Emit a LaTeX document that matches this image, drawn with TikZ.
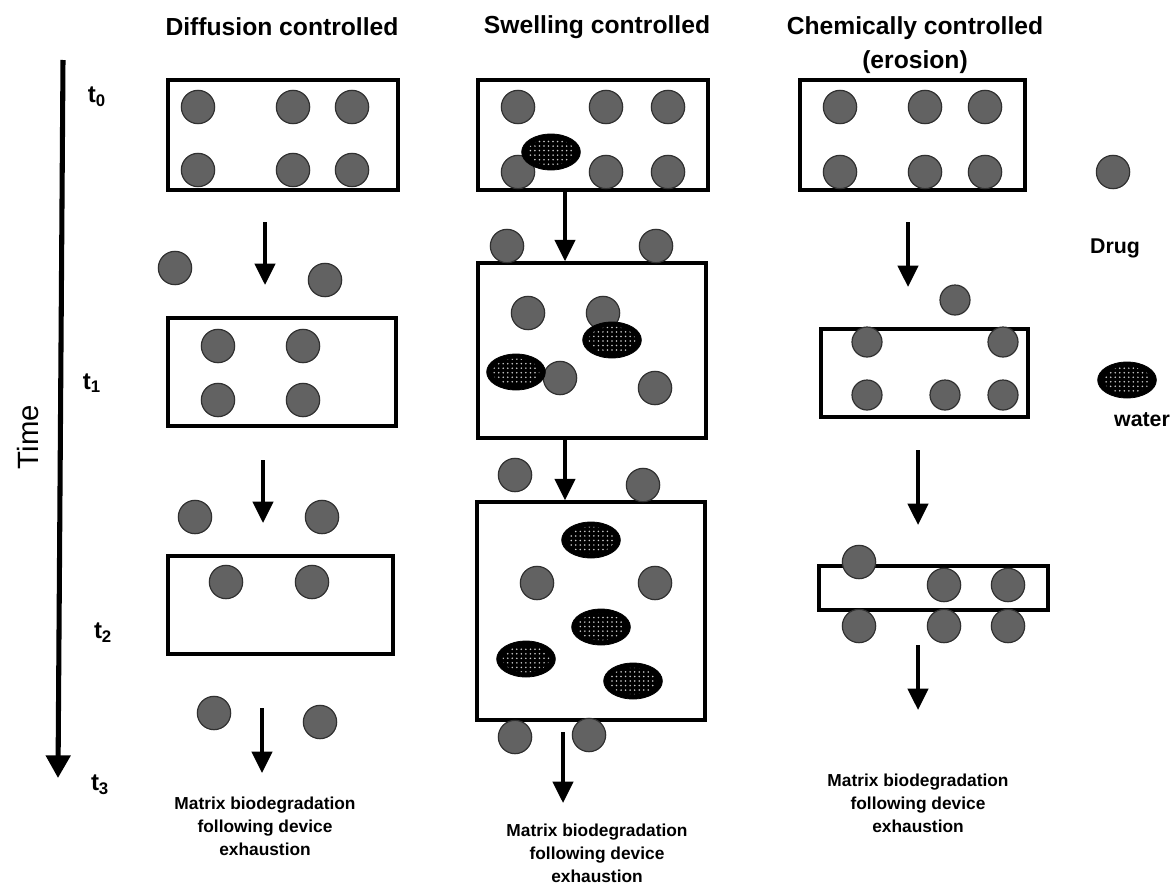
\documentclass[tikz,border=0pt]{standalone}
\usepackage{fontspec}
\setmainfont{Liberation Sans}
\usetikzlibrary{arrows.meta,patterns.meta,shapes.geometric,fit}
\definecolor{drugc}{HTML}{626262}
\definecolor{drugedge}{HTML}{303030}
\begin{document}
\begin{tikzpicture}[x=0.75pt,y=-0.75pt,
  drug/.style={circle, draw=drugedge, line width=0.9pt, fill=drugc, minimum size=25pt, inner sep=0pt},
  smalldrug/.style={drug, minimum size=22.5pt},
  water/.style={ellipse, fill=black, draw=black, line width=0.6pt, minimum width=44pt, minimum height=27pt, inner sep=0pt,
    path picture={\fill[pattern={Dots[radius=0.65pt,distance=3.4pt]}, pattern color=white!80!black]
      (path picture bounding box.center) ellipse [x radius=17.5pt, y radius=10pt];}},
  box/.style={draw=black, line width=2.6pt, inner sep=0pt},
  arr/.style={line width=3pt, -{Triangle[length=16pt,width=15pt]}},
  head/.style={font=\fontsize{18.5}{26}\selectfont\bfseries, align=center},
  foot/.style={font=\fontsize{13}{17.2}\selectfont\bfseries, align=center},
  tlab/.style={font=\fontsize{18}{20}\selectfont\bfseries},
  leg/.style={font=\fontsize{16}{18}\selectfont\bfseries}
]
\useasboundingbox (0,0) rectangle (1176,885);

% headers
\node[head] (h1) at (282,27) {Diffusion controlled};
\node[head] (h2) at (597,27) {Swelling controlled};
\node[head] (h3) at (915,45) {Chemically controlled\\(erosion)};

% time axis
\coordinate (ttop) at (63,60);
\coordinate (tbot) at (58,778);
\draw[line width=3.8pt, -{Triangle[length=17pt,width=18pt]}] (ttop) -- (tbot);
\node[font=\fontsize{22}{24}\selectfont, rotate=90] (time) at (28,437) {Time};
\node[tlab] (t0) at (97,97) {t\textsubscript{0}};
\node[tlab] (t1) at (92,383) {t\textsubscript{1}};
\node[tlab] (t2) at (103,633) {t\textsubscript{2}};
\node[tlab] (t3) at (100,785) {t\textsubscript{3}};

% ---------- Diffusion column ----------
\node[box, fit={(168,80) (398,190)}] (d1) {};
\foreach \n/\x/\y in {da1/198/107, da2/293/107, da3/352/107, da4/198/170, da5/293/170, da6/352/170}
  \node[drug] (\n) at (\x,\y) {};
\coordinate (dar1s) at (265,222);
\coordinate (dar1e) at (265,285);
\draw[arr] (dar1s) -- (dar1e);
\node[drug] (db1) at (175,268) {};
\node[drug] (db2) at (325,280) {};
\node[box, fit={(168,318) (396,426)}] (d2) {};
\foreach \n/\x/\y in {dc1/218/346, dc2/303/346, dc3/218/400, dc4/303/400}
  \node[drug] (\n) at (\x,\y) {};
\coordinate (dar2s) at (263,460);
\coordinate (dar2e) at (263,523);
\draw[arr] (dar2s) -- (dar2e);
\node[drug] (dd1) at (195,517) {};
\node[drug] (dd2) at (322,517) {};
\node[box, fit={(168,556) (393,654)}] (d3) {};
\node[drug] (de1) at (226,582) {};
\node[drug] (de2) at (312,582) {};
\node[drug] (df1) at (214,713) {};
\node[drug] (df2) at (320,722) {};
\coordinate (dar3s) at (262,708);
\coordinate (dar3e) at (262,773);
\draw[arr] (dar3s) -- (dar3e);
\node[foot] (dtext) at (265,826) {Matrix biodegradation\\following device\\exhaustion};

% ---------- Swelling column ----------
\node[box, fit={(478,80) (708,190)}] (s1) {};
\foreach \n/\x/\y in {sa1/518/107, sa2/606/107, sa3/668/107, sa4/518/172, sa5/606/172, sa6/668/172}
  \node[drug] (\n) at (\x,\y) {};
\node[water] (sw1) at (551,152) {};
\node[box, fit={(478,263) (706,438)}] (s2) {};
\coordinate (sar1) at (565,190);
\draw[arr] (sar1) -- (sar1 |- s2.north);
\node[drug] (sb1) at (507,246) {};
\node[drug] (sb2) at (656,246) {};
\foreach \n/\x/\y in {sc1/528/313, sc2/603/313, sc3/560/378, sc4/655/388}
  \node[drug] (\n) at (\x,\y) {};
\node[water] (sw2) at (612,340) {};
\node[water] (sw3) at (516,372) {};
\node[box, fit={(477,502) (705,720)}] (s3) {};
\coordinate (sar2) at (565,438);
\draw[arr] (sar2) -- (sar2 |- s3.north);
\node[drug] (sd1) at (515,475) {};
\node[drug] (sd2) at (643,485) {};
\node[drug] (se1) at (537,583) {};
\node[drug] (se2) at (655,583) {};
\node[water] (sw4) at (591,540) {};
\node[water] (sw5) at (601,627) {};
\node[water] (sw6) at (526,659) {};
\node[water] (sw7) at (633,681) {};
\node[drug] (sf1) at (515,737) {};
\node[drug] (sf2) at (589,735) {};
\coordinate (sar3s) at (563,732);
\coordinate (sar3e) at (563,803);
\draw[arr] (sar3s) -- (sar3e);
\node[foot] (stext) at (597,853) {Matrix biodegradation\\following device\\exhaustion};

% ---------- Chemical column ----------
\node[box, fit={(800,80) (1025,190)}] (c1) {};
\foreach \n/\x/\y in {ca1/840/107, ca2/925/107, ca3/985/107, ca4/840/172, ca5/925/172, ca6/985/172}
  \node[drug] (\n) at (\x,\y) {};
\coordinate (car1s) at (908,222);
\coordinate (car1e) at (908,287);
\draw[arr] (car1s) -- (car1e);
\node[smalldrug] (cb1) at (955,300) {};
\node[box, fit={(821,329) (1028,417)}] (c2) {};
\foreach \n/\x/\y in {cc1/867/342, cc2/1003/342, cc3/867/395, cc4/945/395, cc5/1003/395}
  \node[smalldrug] (\n) at (\x,\y) {};
\coordinate (car2s) at (918,450);
\coordinate (car2e) at (918,525);
\draw[arr] (car2s) -- (car2e);
\node[box, fit={(819,566) (1048,610)}] (c3) {};
\foreach \n/\x/\y in {cd1/859/562, cd2/944/585, cd3/1008/585, cd4/859/626, cd5/944/626, cd6/1008/626}
  \node[drug] (\n) at (\x,\y) {};
\coordinate (car3s) at (918,645);
\coordinate (car3e) at (918,710);
\draw[arr] (car3s) -- (car3e);
\node[foot] (ctext) at (918,803) {Matrix biodegradation\\following device\\exhaustion};

% ---------- Legend ----------
\node[drug] (ldrug) at (1113,172) {};
\node[leg] (ldrugt) at (1115,248) {Drug};
\node[water] (lwater) at (1127,380) {};
\node[leg] (lwatert) at (1142,420) {water};
\end{tikzpicture}
\end{document}
